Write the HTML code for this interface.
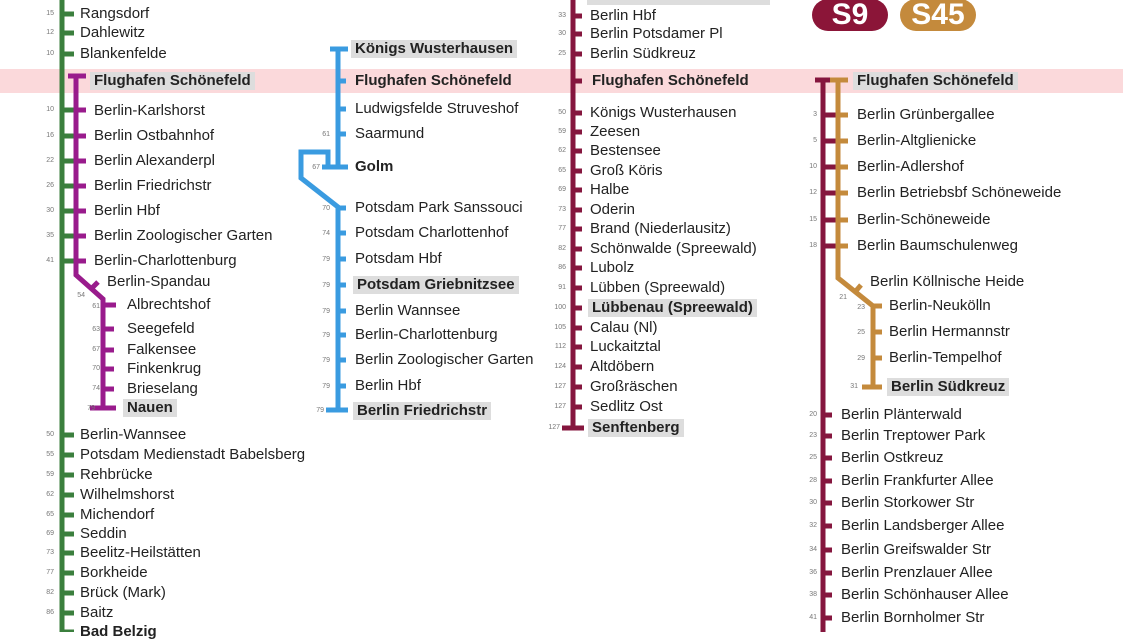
<!DOCTYPE html>
<html><head><meta charset="utf-8"><style>
body{margin:0;width:1123px;height:632px;overflow:hidden;background:#fff;position:relative;font-family:"Liberation Sans",sans-serif}
.t{position:absolute;font-size:15px;line-height:18px;white-space:nowrap;color:#222}
.b{font-weight:bold;background:#ddd;padding:0 4px;margin-left:-4px}
.k{font-weight:bold}
.n{position:absolute;font-size:7px;color:#777;width:20px;text-align:right;line-height:8px}
.badge{position:absolute;top:0;height:32px;width:76px;border-radius:16px;color:#fff;font-weight:bold;font-size:30px;line-height:32px;text-align:center;top:-1px}
</style></head><body>
<div style="position:absolute;left:0;top:69px;width:1123px;height:24px;background:#fbd9db"></div>
<div class="badge" style="left:812px;background:#8b1538">S9</div>
<div class="badge" style="left:900px;background:#c48a3c">S45</div>
<svg width="1123" height="632" style="position:absolute;left:0;top:0">
<g stroke="#3b7f3d" stroke-width="5" fill="none">
<line x1="62" y1="0" x2="62" y2="632"/>
<g stroke-width="5">
<line x1="62" y1="14" x2="74" y2="14"/><line x1="62" y1="33" x2="74" y2="33"/><line x1="62" y1="54" x2="74" y2="54"/>
<line x1="62" y1="110" x2="76" y2="110"/><line x1="62" y1="136" x2="76" y2="136"/><line x1="62" y1="161" x2="76" y2="161"/><line x1="62" y1="186" x2="76" y2="186"/><line x1="62" y1="211" x2="76" y2="211"/><line x1="62" y1="236" x2="76" y2="236"/><line x1="62" y1="261" x2="76" y2="261"/>
<line x1="62" y1="435" x2="74" y2="435"/><line x1="62" y1="455" x2="74" y2="455"/><line x1="62" y1="475" x2="74" y2="475"/><line x1="62" y1="495" x2="74" y2="495"/><line x1="62" y1="515" x2="74" y2="515"/><line x1="62" y1="534" x2="74" y2="534"/><line x1="62" y1="553" x2="74" y2="553"/><line x1="62" y1="573" x2="74" y2="573"/><line x1="62" y1="593" x2="74" y2="593"/><line x1="62" y1="613" x2="74" y2="613"/><line x1="62" y1="632" x2="74" y2="632"/>
</g></g>
<g stroke="#991b8c" stroke-width="5" fill="none">
<polyline points="76,76 76,275 103,299 103,408"/>
<line x1="68" y1="76" x2="86" y2="76"/>
<line x1="76" y1="110" x2="86" y2="110"/><line x1="76" y1="136" x2="86" y2="136"/><line x1="76" y1="161" x2="86" y2="161"/><line x1="76" y1="186" x2="86" y2="186"/><line x1="76" y1="211" x2="86" y2="211"/><line x1="76" y1="236" x2="86" y2="236"/><line x1="76" y1="261" x2="86" y2="261"/>
<line x1="91" y1="289" x2="98" y2="282"/>
<line x1="103" y1="305" x2="116" y2="305"/><line x1="103" y1="329" x2="114" y2="329"/><line x1="103" y1="350" x2="114" y2="350"/><line x1="103" y1="369" x2="114" y2="369"/><line x1="103" y1="389" x2="114" y2="389"/><line x1="90" y1="408" x2="116" y2="408"/>
</g>
<g stroke="#3a9be0" stroke-width="5" fill="none">
<line x1="338" y1="49" x2="338" y2="167"/>
<line x1="330" y1="49" x2="348" y2="49"/>
<polyline points="328,167 328,152 301,152 301,178 338,207 338,410"/>
<line x1="322" y1="167" x2="348" y2="167"/>
<line x1="338" y1="81" x2="346" y2="81"/><line x1="338" y1="109" x2="346" y2="109"/><line x1="338" y1="134" x2="346" y2="134"/>
<line x1="338" y1="208" x2="346" y2="208"/><line x1="338" y1="233" x2="346" y2="233"/><line x1="338" y1="259" x2="346" y2="259"/><line x1="338" y1="285" x2="346" y2="285"/><line x1="338" y1="311" x2="346" y2="311"/><line x1="338" y1="335" x2="346" y2="335"/><line x1="338" y1="360" x2="346" y2="360"/><line x1="338" y1="386" x2="346" y2="386"/><line x1="326" y1="410" x2="348" y2="410"/>
</g>
<g stroke="#85163e" stroke-width="5" fill="none">
<line x1="573" y1="0" x2="573" y2="428"/>
<line x1="573" y1="16" x2="582" y2="16"/><line x1="573" y1="34" x2="582" y2="34"/><line x1="573" y1="54" x2="582" y2="54"/><line x1="573" y1="81" x2="582" y2="81"/>
<line x1="573" y1="113" x2="582" y2="113"/><line x1="573" y1="132" x2="582" y2="132"/><line x1="573" y1="151" x2="582" y2="151"/><line x1="573" y1="171" x2="582" y2="171"/><line x1="573" y1="190" x2="582" y2="190"/><line x1="573" y1="210" x2="582" y2="210"/><line x1="573" y1="229" x2="582" y2="229"/><line x1="573" y1="249" x2="582" y2="249"/><line x1="573" y1="268" x2="582" y2="268"/><line x1="573" y1="288" x2="582" y2="288"/><line x1="573" y1="308" x2="582" y2="308"/><line x1="573" y1="328" x2="582" y2="328"/><line x1="573" y1="347" x2="582" y2="347"/><line x1="573" y1="367" x2="582" y2="367"/><line x1="573" y1="387" x2="582" y2="387"/><line x1="573" y1="407" x2="582" y2="407"/><line x1="562" y1="428" x2="584" y2="428"/>
<line x1="823" y1="80" x2="823" y2="632"/><line x1="815" y1="80" x2="832" y2="80"/>
<line x1="823" y1="115" x2="838" y2="115"/><line x1="823" y1="141" x2="838" y2="141"/><line x1="823" y1="167" x2="838" y2="167"/><line x1="823" y1="193" x2="838" y2="193"/><line x1="823" y1="220" x2="838" y2="220"/><line x1="823" y1="246" x2="838" y2="246"/>
<line x1="823" y1="415" x2="832" y2="415"/><line x1="823" y1="436" x2="832" y2="436"/><line x1="823" y1="458" x2="832" y2="458"/><line x1="823" y1="481" x2="832" y2="481"/><line x1="823" y1="503" x2="832" y2="503"/><line x1="823" y1="526" x2="832" y2="526"/><line x1="823" y1="550" x2="832" y2="550"/><line x1="823" y1="573" x2="832" y2="573"/><line x1="823" y1="595" x2="832" y2="595"/><line x1="823" y1="618" x2="832" y2="618"/>
</g>
<g stroke="#c48a3c" stroke-width="5" fill="none">
<polyline points="838,80 838,278 873,306 873,387"/>
<line x1="830" y1="80" x2="848" y2="80"/>
<line x1="838" y1="115" x2="848" y2="115"/><line x1="838" y1="141" x2="848" y2="141"/><line x1="838" y1="167" x2="848" y2="167"/><line x1="838" y1="193" x2="848" y2="193"/><line x1="838" y1="220" x2="848" y2="220"/><line x1="838" y1="246" x2="848" y2="246"/>
<line x1="855" y1="292" x2="861" y2="285"/>
<line x1="873" y1="306" x2="882" y2="306"/><line x1="873" y1="332" x2="882" y2="332"/><line x1="873" y1="358" x2="882" y2="358"/><line x1="862" y1="387" x2="882" y2="387"/>
</g>
</svg>

<!-- green -->
<div class="n" style="left:34px;top:10px">15</div><div class="t" style="left:80px;top:5px">Rangsdorf</div>
<div class="n" style="left:34px;top:29px">12</div><div class="t" style="left:80px;top:24px">Dahlewitz</div>
<div class="n" style="left:34px;top:50px">10</div><div class="t" style="left:80px;top:45px">Blankenfelde</div>
<div class="n" style="left:34px;top:106px">10</div><div class="n" style="left:34px;top:132px">16</div><div class="n" style="left:34px;top:157px">22</div><div class="n" style="left:34px;top:182px">26</div><div class="n" style="left:34px;top:207px">30</div><div class="n" style="left:34px;top:232px">35</div><div class="n" style="left:34px;top:257px">41</div>
<div class="n" style="left:34px;top:431px">50</div><div class="t" style="left:80px;top:426px">Berlin-Wannsee</div>
<div class="n" style="left:34px;top:451px">55</div><div class="t" style="left:80px;top:446px">Potsdam Medienstadt Babelsberg</div>
<div class="n" style="left:34px;top:471px">59</div><div class="t" style="left:80px;top:466px">Rehbrücke</div>
<div class="n" style="left:34px;top:491px">62</div><div class="t" style="left:80px;top:486px">Wilhelmshorst</div>
<div class="n" style="left:34px;top:511px">65</div><div class="t" style="left:80px;top:506px">Michendorf</div>
<div class="n" style="left:34px;top:530px">69</div><div class="t" style="left:80px;top:525px">Seddin</div>
<div class="n" style="left:34px;top:549px">73</div><div class="t" style="left:80px;top:544px">Beelitz-Heilstätten</div>
<div class="n" style="left:34px;top:569px">77</div><div class="t" style="left:80px;top:564px">Borkheide</div>
<div class="n" style="left:34px;top:589px">82</div><div class="t" style="left:80px;top:584px">Brück (Mark)</div>
<div class="n" style="left:34px;top:609px">86</div><div class="t" style="left:80px;top:604px">Baitz</div>
<div class="t k" style="left:80px;top:623px">Bad Belzig</div>
<!-- purple -->
<div class="t b" style="left:94px;top:72px">Flughafen Schönefeld</div>
<div class="t" style="left:94px;top:102px">Berlin-Karlshorst</div>
<div class="t" style="left:94px;top:127px">Berlin Ostbahnhof</div>
<div class="t" style="left:94px;top:152px">Berlin Alexanderpl</div>
<div class="t" style="left:94px;top:177px">Berlin Friedrichstr</div>
<div class="t" style="left:94px;top:202px">Berlin Hbf</div>
<div class="t" style="left:94px;top:227px">Berlin Zoologischer Garten</div>
<div class="t" style="left:94px;top:252px">Berlin-Charlottenburg</div>
<div class="t" style="left:107px;top:273px">Berlin-Spandau</div>
<div class="n" style="left:65px;top:292px">54</div>
<div class="n" style="left:80px;top:303px">61</div><div class="t" style="left:127px;top:296px">Albrechtshof</div>
<div class="n" style="left:80px;top:326px">63</div><div class="t" style="left:127px;top:320px">Seegefeld</div>
<div class="n" style="left:80px;top:346px">67</div><div class="t" style="left:127px;top:341px">Falkensee</div>
<div class="n" style="left:80px;top:365px">70</div><div class="t" style="left:127px;top:360px">Finkenkrug</div>
<div class="n" style="left:80px;top:385px">74</div><div class="t" style="left:127px;top:380px">Brieselang</div>
<div class="n" style="left:75px;top:405px">79</div><div class="t b" style="left:127px;top:399px">Nauen</div>
<!-- blue -->
<div class="t b" style="left:355px;top:40px">Königs Wusterhausen</div>
<div class="t k" style="left:355px;top:72px">Flughafen Schönefeld</div>
<div class="t" style="left:355px;top:100px">Ludwigsfelde Struveshof</div>
<div class="n" style="left:310px;top:131px">61</div><div class="t" style="left:355px;top:125px">Saarmund</div>
<div class="n" style="left:300px;top:164px">67</div><div class="t k" style="left:355px;top:158px">Golm</div>
<div class="n" style="left:310px;top:205px">70</div><div class="t" style="left:355px;top:199px">Potsdam Park Sanssouci</div>
<div class="n" style="left:310px;top:230px">74</div><div class="t" style="left:355px;top:224px">Potsdam Charlottenhof</div>
<div class="n" style="left:310px;top:256px">79</div><div class="t" style="left:355px;top:250px">Potsdam Hbf</div>
<div class="n" style="left:310px;top:282px">79</div><div class="t b" style="left:357px;top:276px">Potsdam Griebnitzsee</div>
<div class="n" style="left:310px;top:308px">79</div><div class="t" style="left:355px;top:302px">Berlin Wannsee</div>
<div class="n" style="left:310px;top:332px">79</div><div class="t" style="left:355px;top:326px">Berlin-Charlottenburg</div>
<div class="n" style="left:310px;top:357px">79</div><div class="t" style="left:355px;top:351px">Berlin Zoologischer Garten</div>
<div class="n" style="left:310px;top:383px">79</div><div class="t" style="left:355px;top:377px">Berlin Hbf</div>
<div class="n" style="left:304px;top:407px">79</div><div class="t b" style="left:357px;top:402px">Berlin Friedrichstr</div>
<!-- maroon middle -->
<div style="position:absolute;left:587px;top:0;width:183px;height:5px;background:#ddd"></div>
<div class="n" style="left:546px;top:12px">33</div><div class="t" style="left:590px;top:7px">Berlin Hbf</div>
<div class="n" style="left:546px;top:30px">30</div><div class="t" style="left:590px;top:25px">Berlin Potsdamer Pl</div>
<div class="n" style="left:546px;top:50px">25</div><div class="t" style="left:590px;top:45px">Berlin Südkreuz</div>
<div class="t k" style="left:592px;top:72px">Flughafen Schönefeld</div>
<div class="n" style="left:546px;top:109px">50</div><div class="t" style="left:590px;top:104px">Königs Wusterhausen</div>
<div class="n" style="left:546px;top:128px">59</div><div class="t" style="left:590px;top:123px">Zeesen</div>
<div class="n" style="left:546px;top:147px">62</div><div class="t" style="left:590px;top:142px">Bestensee</div>
<div class="n" style="left:546px;top:167px">65</div><div class="t" style="left:590px;top:162px">Groß Köris</div>
<div class="n" style="left:546px;top:186px">69</div><div class="t" style="left:590px;top:181px">Halbe</div>
<div class="n" style="left:546px;top:206px">73</div><div class="t" style="left:590px;top:201px">Oderin</div>
<div class="n" style="left:546px;top:225px">77</div><div class="t" style="left:590px;top:220px">Brand (Niederlausitz)</div>
<div class="n" style="left:546px;top:245px">82</div><div class="t" style="left:590px;top:240px">Schönwalde (Spreewald)</div>
<div class="n" style="left:546px;top:264px">86</div><div class="t" style="left:590px;top:259px">Lubolz</div>
<div class="n" style="left:546px;top:284px">91</div><div class="t" style="left:590px;top:279px">Lübben (Spreewald)</div>
<div class="n" style="left:546px;top:304px">100</div><div class="t b" style="left:592px;top:299px">Lübbenau (Spreewald)</div>
<div class="n" style="left:546px;top:324px">105</div><div class="t" style="left:590px;top:319px">Calau (Nl)</div>
<div class="n" style="left:546px;top:343px">112</div><div class="t" style="left:590px;top:338px">Luckaitztal</div>
<div class="n" style="left:546px;top:363px">124</div><div class="t" style="left:590px;top:358px">Altdöbern</div>
<div class="n" style="left:546px;top:383px">127</div><div class="t" style="left:590px;top:378px">Großräschen</div>
<div class="n" style="left:546px;top:403px">127</div><div class="t" style="left:590px;top:398px">Sedlitz Ost</div>
<div class="n" style="left:540px;top:424px">127</div><div class="t b" style="left:592px;top:419px">Senftenberg</div>
<!-- right -->
<div class="t b" style="left:857px;top:72px">Flughafen Schönefeld</div>
<div class="n" style="left:797px;top:111px">3</div><div class="t" style="left:857px;top:106px">Berlin Grünbergallee</div>
<div class="n" style="left:797px;top:137px">5</div><div class="t" style="left:857px;top:132px">Berlin-Altglienicke</div>
<div class="n" style="left:797px;top:163px">10</div><div class="t" style="left:857px;top:158px">Berlin-Adlershof</div>
<div class="n" style="left:797px;top:189px">12</div><div class="t" style="left:857px;top:184px">Berlin Betriebsbf Schöneweide</div>
<div class="n" style="left:797px;top:216px">15</div><div class="t" style="left:857px;top:211px">Berlin-Schöneweide</div>
<div class="n" style="left:797px;top:242px">18</div><div class="t" style="left:857px;top:237px">Berlin Baumschulenweg</div>
<div class="t" style="left:870px;top:273px">Berlin Köllnische Heide</div>
<div class="n" style="left:827px;top:294px">21</div>
<div class="n" style="left:845px;top:304px">23</div><div class="t" style="left:889px;top:297px">Berlin-Neukölln</div>
<div class="n" style="left:845px;top:329px">25</div><div class="t" style="left:889px;top:323px">Berlin Hermannstr</div>
<div class="n" style="left:845px;top:355px">29</div><div class="t" style="left:889px;top:349px">Berlin-Tempelhof</div>
<div class="n" style="left:838px;top:383px">31</div><div class="t b" style="left:891px;top:378px">Berlin Südkreuz</div>
<div class="n" style="left:797px;top:411px">20</div><div class="t" style="left:841px;top:406px">Berlin Plänterwald</div>
<div class="n" style="left:797px;top:432px">23</div><div class="t" style="left:841px;top:427px">Berlin Treptower Park</div>
<div class="n" style="left:797px;top:454px">25</div><div class="t" style="left:841px;top:449px">Berlin Ostkreuz</div>
<div class="n" style="left:797px;top:477px">28</div><div class="t" style="left:841px;top:472px">Berlin Frankfurter Allee</div>
<div class="n" style="left:797px;top:499px">30</div><div class="t" style="left:841px;top:494px">Berlin Storkower Str</div>
<div class="n" style="left:797px;top:522px">32</div><div class="t" style="left:841px;top:517px">Berlin Landsberger Allee</div>
<div class="n" style="left:797px;top:546px">34</div><div class="t" style="left:841px;top:541px">Berlin Greifswalder Str</div>
<div class="n" style="left:797px;top:569px">36</div><div class="t" style="left:841px;top:564px">Berlin Prenzlauer Allee</div>
<div class="n" style="left:797px;top:591px">38</div><div class="t" style="left:841px;top:586px">Berlin Schönhauser Allee</div>
<div class="n" style="left:797px;top:614px">41</div><div class="t" style="left:841px;top:609px">Berlin Bornholmer Str</div>
</body></html>
